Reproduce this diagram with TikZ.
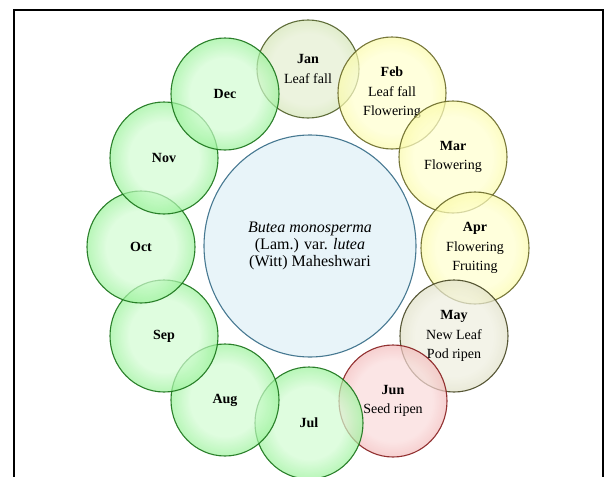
\documentclass[tikz,border=0pt]{standalone}
\usepackage{fontspec}
\setmainfont{Liberation Serif}
\usetikzlibrary{shapes.geometric}

\definecolor{grnin}{RGB}{210,252,210}
\definecolor{grnout}{RGB}{0,215,0}
\definecolor{grnline}{RGB}{25,115,25}
\definecolor{janin}{RGB}{228,238,208}
\definecolor{janout}{RGB}{150,195,85}
\definecolor{janline}{RGB}{80,95,40}
\definecolor{yelin}{RGB}{255,255,205}
\definecolor{yelout}{RGB}{235,235,45}
\definecolor{yelline}{RGB}{105,105,40}
\definecolor{mayin}{RGB}{238,238,222}
\definecolor{mayout}{RGB}{175,175,120}
\definecolor{mayline}{RGB}{70,70,35}
\definecolor{junin}{RGB}{250,218,218}
\definecolor{junout}{RGB}{215,80,80}
\definecolor{junline}{RGB}{135,30,30}
\definecolor{cenin}{RGB}{232,244,249}
\definecolor{cenout}{RGB}{140,200,220}
\definecolor{cenline}{RGB}{70,120,145}

% bubble shadings: pale middle, coloured rim
\pgfdeclareradialshading{grnball}{\pgfpoint{0bp}{0bp}}{color(0bp)=(grnin); color(16bp)=(grnin); color(50bp)=(grnout)}
\pgfdeclareradialshading{janball}{\pgfpoint{0bp}{0bp}}{color(0bp)=(janin); color(18bp)=(janin); color(50bp)=(janout)}
\pgfdeclareradialshading{yelball}{\pgfpoint{0bp}{0bp}}{color(0bp)=(yelin); color(18bp)=(yelin); color(50bp)=(yelout)}
\pgfdeclareradialshading{mayball}{\pgfpoint{0bp}{0bp}}{color(0bp)=(mayin); color(18bp)=(mayin); color(50bp)=(mayout)}
\pgfdeclareradialshading{junball}{\pgfpoint{0bp}{0bp}}{color(0bp)=(junin); color(18bp)=(junin); color(50bp)=(junout)}
\pgfdeclareradialshading{cenball}{\pgfpoint{0bp}{0bp}}{color(0bp)=(cenin); color(28bp)=(cenin); color(50bp)=(cenout)}

\begin{document}
\begin{tikzpicture}[x=1pt, y=-1pt,
  month/.style={ellipse, line width=1.1pt, minimum width=108pt, minimum height=112pt,
    inner sep=0pt, align=center, fill opacity=.7, draw opacity=.9, text opacity=1,
    font=\fontsize{14}{19.5}\selectfont},
  grn/.style={draw=grnline, shading=grnball},
  jan/.style={draw=janline, shading=janball},
  yel/.style={draw=yelline, shading=yelball},
  may/.style={draw=mayline, shading=mayball},
  jun/.style={draw=junline, shading=junball}]
\useasboundingbox (0,0) rectangle (606,477);
\clip (0,0) rectangle (606,477);

\node[ellipse, draw=cenline, line width=1.1pt, shading=cenball, minimum width=212pt,
  minimum height=222pt, inner sep=0pt, align=center,
  font=\fontsize{16}{17}\selectfont] (plant) at (310,246)
  {\textit{Butea monosperma}\\(Lam.) var. \textit{lutea}\\(Witt) Maheshwari};

\node[month, jan, minimum width=102pt, minimum height=98pt] (jan) at (308,69) {\textbf{Jan}\\Leaf fall};
\node[month, yel] (feb) at (392,93) {\textbf{Feb}\\Leaf fall\\Flowering};
\node[month, yel] (mar) at (453,157) {\textbf{Mar}\\Flowering};
\node[month, yel] (apr) at (475,248) {\textbf{Apr}\\Flowering\\Fruiting};
\node[month, may] (may) at (454,336) {\textbf{May}\\New Leaf\\Pod ripen};
\node[month, jun] (jun) at (393,401) {\textbf{Jun}\\Seed ripen};
\node[month, grn] (jul) at (309,423) {\textbf{Jul}};
\node[month, grn] (aug) at (225,400) {\textbf{Aug}};
\node[month, grn] (sep) at (164,336) {\textbf{Sep}};
\node[month, grn] (oct) at (141,247) {\textbf{Oct}};
\node[month, grn] (nov) at (164,158) {\textbf{Nov}};
\node[month, grn] (dec) at (225,94) {\textbf{Dec}};

% frame
\draw[line width=2.6pt] (14,490) -- (14,10) -- (603,10) -- (603,490);
\end{tikzpicture}
\end{document}
